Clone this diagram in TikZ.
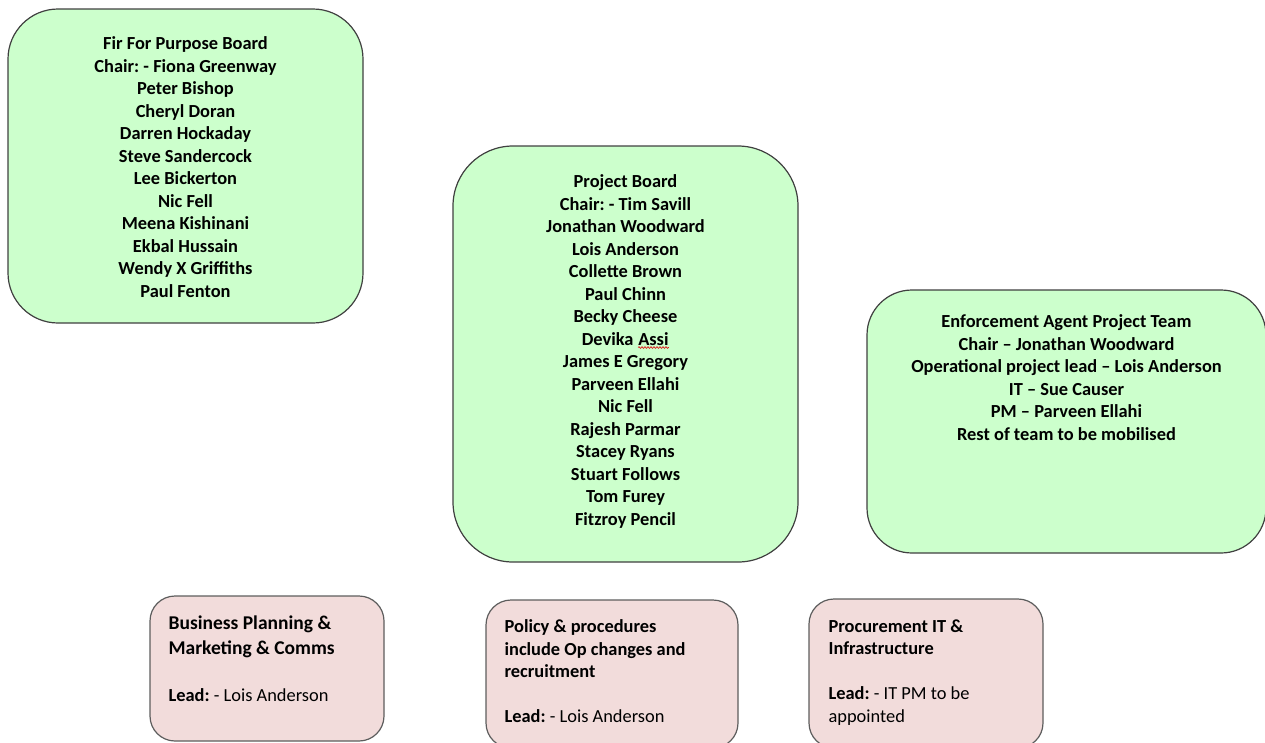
\documentclass[tikz,border=0pt]{standalone}
\usepackage{fontspec}
\setmainfont{Carlito}
\usepackage{xcolor}
\usetikzlibrary{positioning,calc,decorations.pathmorphing}
\definecolor{boxgreen}{RGB}{204,255,204}
\definecolor{boxpink}{RGB}{242,220,219}
\definecolor{boxedge}{RGB}{64,64,64}
\definecolor{spellred}{RGB}{220,30,30}
\frenchspacing
\newcommand{\spellmark}[1]{\tikz[baseline=(w.base)]{\node[inner sep=0pt] (w) {#1};
  \draw[spellred, line width=0.7pt, decorate, decoration={snake,amplitude=0.8pt,segment length=3pt}]
    ([yshift=-2.5pt]w.base west) -- ([yshift=-2.5pt]w.base east);}}
\newcommand{\bizhead}[1]{{\fontsize{19.5}{25}\selectfont\bfseries #1}}

\begin{document}
\begin{tikzpicture}[
  x=1pt, y=-1pt,
  greenbox/.style = {
    rectangle, draw=boxedge, fill=boxgreen, line width=1.2pt
  },
  pinkbox/.style = {
    rectangle, draw=boxedge!85, fill=boxpink, line width=1.2pt,
    rounded corners=25pt
  },
  boardtext/.style = {
    anchor=north, inner sep=0pt, align=center,
    font=\fontsize{18.4}{22.5}\selectfont\bfseries
  },
  leadtext/.style = {
    anchor=north west, inner sep=0pt, align=left,
    font=\fontsize{18.4}{22.5}\selectfont
  }
]
  \useasboundingbox (0,0) rectangle (1265,742);

  % boards
  \node[greenbox, rounded corners=50pt, minimum width=355pt, minimum height=314pt] (fitboard) at (185.5,166) {};
  \node[greenbox, rounded corners=60pt, minimum width=345pt, minimum height=416pt] (projboard) at (625.5,354) {};
  \node[greenbox, rounded corners=45pt, minimum width=399pt, minimum height=263pt] (eateam) at (1066.5,421.5) {};

  \node[boardtext] (fittext) at ([yshift=-28pt]fitboard.north)
    {Fir For Purpose Board\\Chair: - Fiona Greenway\\Peter Bishop\\Cheryl Doran\\Darren Hockaday\\Steve Sandercock\\Lee Bickerton\\Nic Fell\\Meena Kishinani\\Ekbal Hussain\\Wendy X Griffiths\\Paul Fenton};
  \node[boardtext] (projtext) at ([yshift=-29pt]projboard.north)
    {Project Board\\Chair: - Tim Savill\\Jonathan Woodward\\Lois Anderson\\Collette Brown\\Paul Chinn\\Becky Cheese\\Devika \spellmark{Assi}\\James E Gregory\\Parveen Ellahi\\Nic Fell\\Rajesh Parmar\\Stacey Ryans\\Stuart Follows\\Tom Furey\\Fitzroy Pencil};
  \node[boardtext] (eatext) at ([yshift=-25pt]eateam.north)
    {Enforcement Agent Project Team\\Chair -- Jonathan Woodward\\Operational project lead -- Lois Anderson\\IT -- Sue Causer\\PM -- Parveen Ellahi\\Rest of team to be mobilised};

  % workstreams
  \node[pinkbox, minimum width=234pt, minimum height=145pt] (bizbox) at (267,668.5) {};
  \node[pinkbox, minimum width=252pt, minimum height=148pt] (polbox) at (612,674) {};
  \node[pinkbox, minimum width=234pt, minimum height=149pt] (procbox) at (926,673.5) {};

  \node[leadtext] (biztext) at ([xshift=19pt,yshift=-20pt]bizbox.north west)
    {\bizhead{Business Planning \&}\\[3pt]\bizhead{Marketing \& Comms}\\[24pt]\textbf{Lead:} - Lois Anderson};
  \node[leadtext] (poltext) at ([xshift=19pt,yshift=-20pt]polbox.north west)
    {\textbf{Policy \& procedures}\\\textbf{include Op changes and}\\\textbf{recruitment}\\[22.5pt]\textbf{Lead:} - Lois Anderson};
  \node[leadtext] (proctext) at ([xshift=20pt,yshift=-21pt]procbox.north west)
    {\textbf{Procurement IT \&}\\\textbf{Infrastructure}\\[22.5pt]\textbf{Lead:} - IT PM to be\\appointed};
\end{tikzpicture}
\end{document}
